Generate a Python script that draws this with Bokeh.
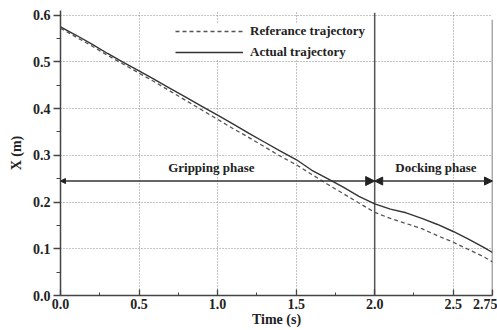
from bokeh.plotting import figure
from bokeh.models import Legend, LegendItem, Arrow, NormalHead, FixedTicker
from bokeh.embed import file_html
from bokeh.resources import INLINE

# ---- data ----
time_s = [0.0, 0.1, 0.2, 0.3, 0.4, 0.5, 0.6, 0.7, 0.8, 0.9, 1.0, 1.1, 1.2, 1.3, 1.4,
          1.5, 1.6, 1.7, 1.8, 1.9, 2.0, 2.1, 2.2, 2.3, 2.4, 2.5, 2.6, 2.7, 2.75]
reference_x = [0.572, 0.553, 0.534, 0.514, 0.495, 0.476, 0.457, 0.437, 0.417, 0.397, 0.377,
               0.357, 0.338, 0.318, 0.298, 0.280, 0.259, 0.238, 0.218, 0.198, 0.178,
               0.165, 0.154, 0.143, 0.128, 0.114, 0.098, 0.082, 0.072]
actual_x = [0.575, 0.557, 0.538, 0.518, 0.499, 0.481, 0.462, 0.443, 0.424, 0.405, 0.386,
            0.367, 0.347, 0.328, 0.309, 0.291, 0.268, 0.250, 0.232, 0.212, 0.196,
            0.185, 0.177, 0.165, 0.152, 0.137, 0.120, 0.102, 0.092]

phase_bounds = [0.0, 2.0, 2.75]
phase_names = ["Gripping phase", "Docking phase"]
phase_arrow_y = 0.245
phase_label_y = 0.275

x_ticks = [0.0, 0.5, 1.0, 1.5, 2.0, 2.5, 2.75]
x_tick_labels = ["0.0", "0.5", "1.0", "1.5", "2.0", "2.5", "2.75"]
x_minor = [0.25, 0.75, 1.25, 1.75, 2.25]
y_ticks = [0.0, 0.1, 0.2, 0.3, 0.4, 0.5, 0.6]
y_tick_labels = ["0.0", "0.1", "0.2", "0.3", "0.4", "0.5", "0.6"]
y_minor = [0.05, 0.15, 0.25, 0.35, 0.45, 0.55]

FONT = "Liberation Serif"
AX = "#444444"

p = figure(width=497, height=330, x_range=(0, 2.75), y_range=(0, 0.61),
           output_backend="svg", toolbar_location=None,
           min_border_left=60, min_border_right=5, min_border_top=10, min_border_bottom=35)
p.outline_line_color = None
p.background_fill_color = "white"

# grid
for g in (p.xgrid, p.ygrid):
    g.grid_line_color = "#888888"
    g.grid_line_dash = "1 2"
    g.grid_line_width = 1
p.xgrid.ticker = FixedTicker(ticks=[0.5, 1.0, 1.5, 2.5])
p.ygrid.ticker = FixedTicker(ticks=[0.1, 0.2, 0.3, 0.4, 0.5, 0.6])

# axes
p.xaxis.ticker = FixedTicker(ticks=x_ticks, minor_ticks=x_minor)
p.yaxis.ticker = FixedTicker(ticks=y_ticks, minor_ticks=y_minor)
p.xaxis.major_label_overrides = dict(zip(x_ticks, x_tick_labels))
p.yaxis.major_label_overrides = dict(zip(y_ticks, y_tick_labels))
for ax in (p.xaxis[0], p.yaxis[0]):
    ax.axis_line_color = AX
    ax.axis_line_width = 1.5
    ax.major_tick_line_color = AX
    ax.minor_tick_line_color = AX
    ax.major_tick_line_width = 1.3
    ax.major_label_text_font = FONT
    ax.major_label_text_font_style = "bold"
    ax.major_label_text_font_size = "14px"
    ax.major_label_text_color = "#222222"
    ax.axis_label_text_font = FONT
    ax.axis_label_text_font_style = "bold"
    ax.axis_label_text_font_size = "14px"
    ax.axis_label_text_color = "#222222"
p.xaxis.major_tick_in = 6
p.xaxis.major_tick_out = 0
p.xaxis.minor_tick_in = 3
p.xaxis.minor_tick_out = 0
p.xaxis.major_label_standoff = 3
p.xaxis.axis_label = "Time (s)"
p.xaxis.axis_label_standoff = 0
p.yaxis.major_tick_in = 0
p.yaxis.major_tick_out = 7
p.yaxis.minor_tick_in = 0
p.yaxis.minor_tick_out = 4
p.yaxis.major_label_standoff = 3
p.yaxis.axis_label = "X (m)"
p.yaxis.axis_label_standoff = 6

# phase boundary lines
p.segment(x0=phase_bounds[1:], y0=[0, 0], x1=phase_bounds[1:], y1=[0.605, 0.59],
          line_color="#555555", line_width=1.5)

# trajectories
r_ref = p.line(time_s, reference_x, line_color="#555555", line_width=1.3, line_dash="4 3")
r_act = p.line(time_s, actual_x, line_color="#333333", line_width=1.4)

# phase arrows and labels
head_sizes = [(5, 9), (8, 8)]
for i in range(2):
    p.add_layout(Arrow(x_start=phase_bounds[i], y_start=phase_arrow_y,
                       x_end=phase_bounds[i + 1], y_end=phase_arrow_y,
                       start=NormalHead(size=head_sizes[i][0], fill_color="#222222", line_color="#222222"),
                       end=NormalHead(size=head_sizes[i][1], fill_color="#222222", line_color="#222222"),
                       line_color="#333333", line_width=1.5))
p.text(x=[0.96, 2.39], y=[phase_label_y, phase_label_y], text=phase_names,
       text_font={"value": FONT}, text_font_style="bold", text_font_size="13px",
       text_align="center", text_baseline="middle", text_color="#222222")

legend = Legend(items=[LegendItem(label="Referance trajectory", renderers=[r_ref]),
                       LegendItem(label="Actual trajectory", renderers=[r_act])],
                location=(115, 235))
legend.glyph_width = 68
legend.glyph_height = 16
legend.label_height = 16
legend.label_standoff = 7
legend.spacing = 5
legend.padding = 4
legend.margin = 0
legend.border_line_color = None
legend.background_fill_alpha = 1.0
legend.label_text_font = FONT
legend.label_text_font_style = "bold"
legend.label_text_font_size = "13px"
legend.label_text_color = "#222222"
p.add_layout(legend, "center")

open("out.html", "w").write(file_html(p, INLINE))
